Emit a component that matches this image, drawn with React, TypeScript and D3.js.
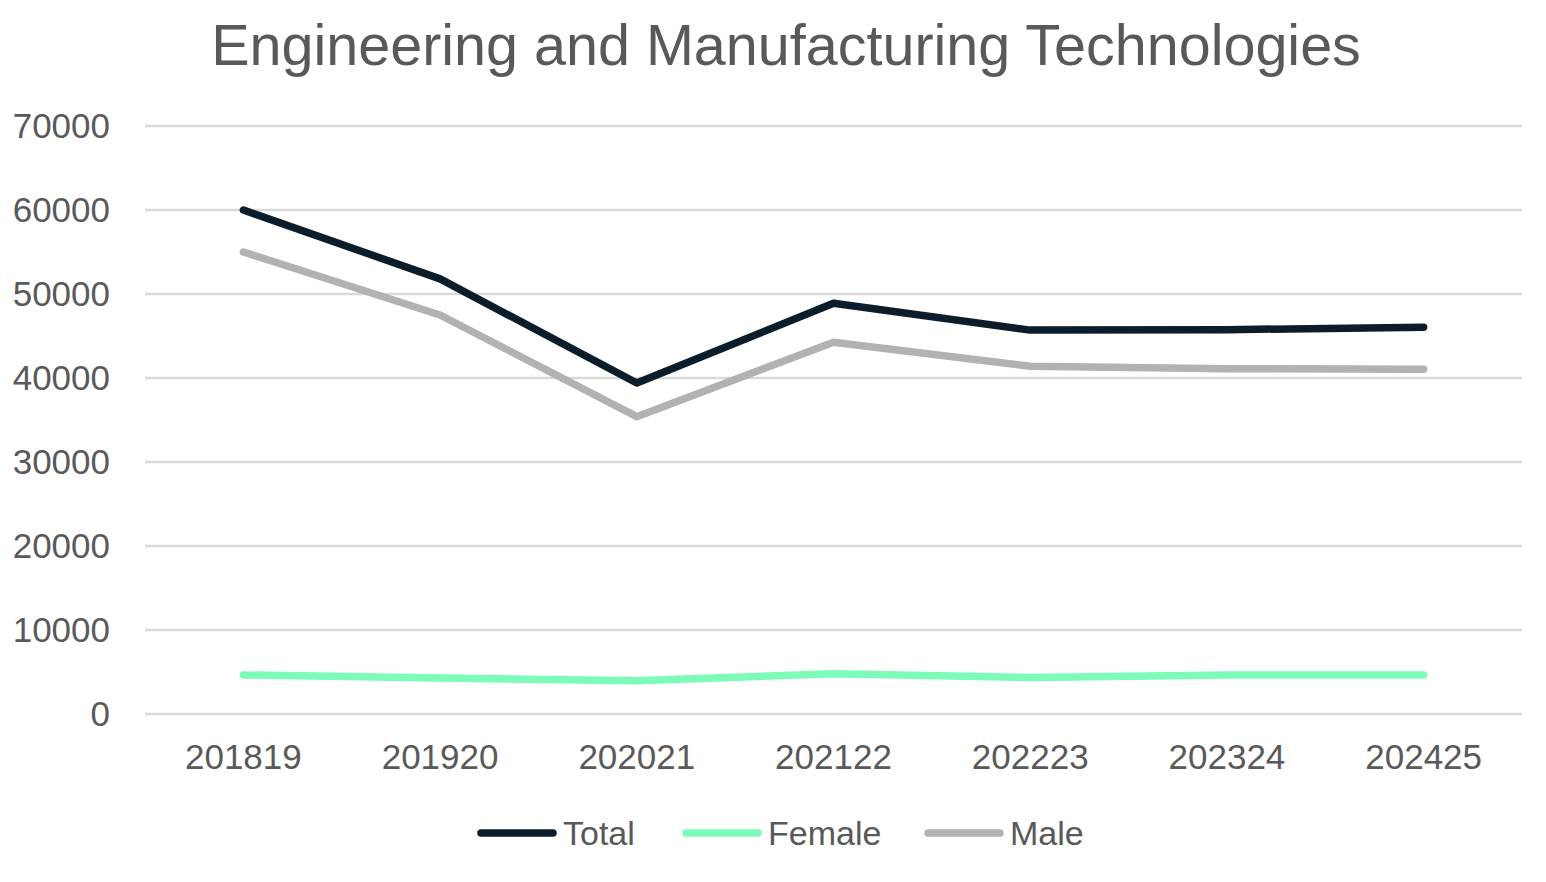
// App.tsx
import React, { useEffect, useRef } from 'react';
import * as d3 from 'd3';

const years = ['201819', '201920', '202021', '202122', '202223', '202324', '202425'];
const totalValues = [60000, 51800, 39400, 48900, 45700, 45750, 46050];
const femaleValues = [4650, 4300, 3950, 4800, 4350, 4650, 4650];
const maleValues = [55000, 47500, 35400, 44250, 41400, 41100, 41050];
const yTicks = [0, 10000, 20000, 30000, 40000, 50000, 60000, 70000];

const series = [
  { name: 'Total', values: totalValues, color: '#0b1c2b' },
  { name: 'Female', values: femaleValues, color: '#7cfcb8' },
  { name: 'Male', values: maleValues, color: '#b2b2b2' },
];

const App: React.FC = () => {
  const chartRef = useRef<SVGSVGElement>(null);

  useEffect(() => {
    document.body.style.margin = '0';
    if (!chartRef.current) return;

    const width = 1546;
    const height = 882;
    const margin = { top: 126, right: 24, bottom: 168, left: 145 };
    const font = 'Liberation Sans, Arial, sans-serif';

    const svg = d3.select(chartRef.current);
    svg.selectAll('*').remove();
    svg.attr('width', width).attr('height', height);

    const x = d3
      .scalePoint<string>()
      .domain(years)
      .range([margin.left, width - margin.right])
      .padding(0.5);

    const y = d3
      .scaleLinear()
      .domain([0, 70000])
      .range([height - margin.bottom, margin.top]);

    // title
    svg
      .append('text')
      .attr('x', 786)
      .attr('y', 65)
      .attr('text-anchor', 'middle')
      .attr('font-family', font)
      .attr('font-size', 57.5)
      .attr('fill', '#595959')
      .text('Engineering and Manufacturing Technologies');

    // gridlines
    svg
      .append('g')
      .selectAll('line')
      .data(yTicks)
      .join('line')
      .attr('x1', margin.left)
      .attr('x2', width - margin.right)
      .attr('y1', (d) => y(d))
      .attr('y2', (d) => y(d))
      .attr('stroke', '#d9d9d9')
      .attr('stroke-width', 2.5);

    // y labels
    svg
      .append('g')
      .selectAll('text')
      .data(yTicks)
      .join('text')
      .attr('x', 110)
      .attr('y', (d) => y(d))
      .attr('dy', '0.35em')
      .attr('text-anchor', 'end')
      .attr('font-family', font)
      .attr('font-size', 35)
      .attr('fill', '#595959')
      .text((d) => String(d));

    // x labels
    svg
      .append('g')
      .selectAll('text')
      .data(years)
      .join('text')
      .attr('x', (d) => x(d)!)
      .attr('y', 769)
      .attr('text-anchor', 'middle')
      .attr('font-family', font)
      .attr('font-size', 35)
      .attr('fill', '#595959')
      .text((d) => d);

    const line = d3
      .line<number>()
      .x((_, i) => x(years[i])!)
      .y((d) => y(d));

    series.forEach((s) => {
      svg
        .append('path')
        .datum(s.values)
        .attr('fill', 'none')
        .attr('stroke', s.color)
        .attr('stroke-width', 7.5)
        .attr('stroke-linecap', 'round')
        .attr('stroke-linejoin', 'round')
        .attr('d', line);
    });

    // legend
    const legendX = [481, 686, 928];
    const legend = svg
      .append('g')
      .selectAll('g')
      .data(series)
      .join('g')
      .attr('transform', (_, i) => `translate(${legendX[i]},833)`);

    legend
      .append('line')
      .attr('x1', 0)
      .attr('x2', 72)
      .attr('stroke', (d) => d.color)
      .attr('stroke-width', 7.5)
      .attr('stroke-linecap', 'round');

    legend
      .append('text')
      .attr('x', 82)
      .attr('dy', '0.35em')
      .attr('font-family', font)
      .attr('font-size', 34)
      .attr('fill', '#595959')
      .text((d) => d.name);
  }, []);

  return <svg ref={chartRef} style={{ display: 'block' }}></svg>;
};

export default App;
